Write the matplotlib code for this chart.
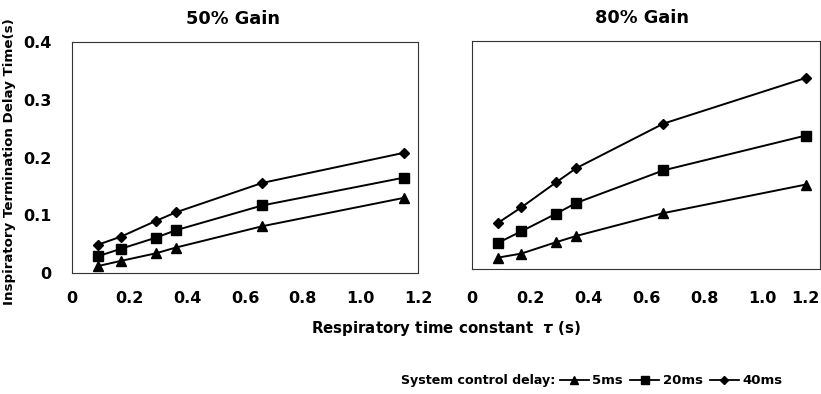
import matplotlib.pyplot as plt
from matplotlib.lines import Line2D

plt.rcParams['font.family'] = ['DejaVu Sans']
plt.rcParams['font.weight'] = 'bold'

tau = [0.09, 0.17, 0.29, 0.36, 0.66, 1.15]
delays = ['5ms', '20ms', '40ms']
markers = ['^', 's', 'D']
msizes = [7.5, 7.5, 5.5]

# 50% gain
gain50 = {
    '5ms':  [0.012, 0.021, 0.034, 0.044, 0.081, 0.130],
    '20ms': [0.029, 0.042, 0.061, 0.074, 0.117, 0.165],
    '40ms': [0.049, 0.063, 0.090, 0.105, 0.156, 0.208],
}
# 80% gain
gain80 = {
    '5ms':  [0.020, 0.027, 0.047, 0.058, 0.098, 0.148],
    '20ms': [0.046, 0.066, 0.097, 0.116, 0.173, 0.234],
    '40ms': [0.081, 0.108, 0.152, 0.177, 0.255, 0.335],
}

fig = plt.figure(figsize=(8.21, 3.94), dpi=100)
ax1 = fig.add_axes([0.0877, 0.3071, 0.4214, 0.5863])
ax2 = fig.add_axes([0.5749, 0.3173, 0.4239, 0.5787])

for ax, data, title, tx in [(ax1, gain50, '50% Gain', 0.465),
                            (ax2, gain80, '80% Gain', 0.489)]:
    for d, m, ms in zip(delays, markers, msizes):
        ax.plot(tau, data[d], color='black', lw=1.4, marker=m, ms=ms)
    ax.set_xlim(0, 1.2)
    ax.set_ylim(0, 0.4)
    ax.set_xticks([0, 0.2, 0.4, 0.6, 0.8, 1.0, 1.2])
    ax.set_xticklabels(['0', '0.2', '0.4', '0.6', '0.8', '1.0', '1.2'])
    ax.tick_params(length=0, labelsize=11.5)
    for s in ax.spines.values():
        s.set_linewidth(0.8)
        s.set_color('#333333')
    ax.set_title(title, fontsize=12.8, fontweight='bold', x=tx, pad=13)

ax1.tick_params(axis='x', pad=13)
ax2.tick_params(axis='x', pad=16)
ax1.set_yticks([0, 0.1, 0.2, 0.3, 0.4])
ax1.set_yticklabels(['0', '0.1', '0.2', '0.3', '0.4'])
ax1.tick_params(axis='y', pad=15)
ax2.set_yticks([])
# the last label sits on the figure edge
ax2.get_xticklabels()[-1].set_horizontalalignment('right')

fig.text(0.012, 0.591, 'Inspiratory Termination Delay Time(s)', rotation=90,
         ha='center', va='center', fontsize=9.6, fontweight='bold')
fig.text(0.543, 0.167, r'Respiratory time constant  $\tau$ (s)',
         ha='center', va='center', fontsize=10.8, fontweight='bold')

fig.text(0.489, 0.033, 'System control delay:', ha='left', va='center',
         fontsize=9.1, fontweight='bold')
handles = [Line2D([], [], color='black', lw=1.3, marker=m, ms=ms * 0.75)
           for m, ms in zip(markers, msizes)]
fig.legend(handles, delays, loc='center left', bbox_to_anchor=(0.682, 0.033),
           ncol=3, frameon=False, fontsize=9.5, handlelength=2.2,
           handletextpad=0.25, columnspacing=0.55, borderpad=0, borderaxespad=0)

fig.savefig('out.png', dpi=100)
